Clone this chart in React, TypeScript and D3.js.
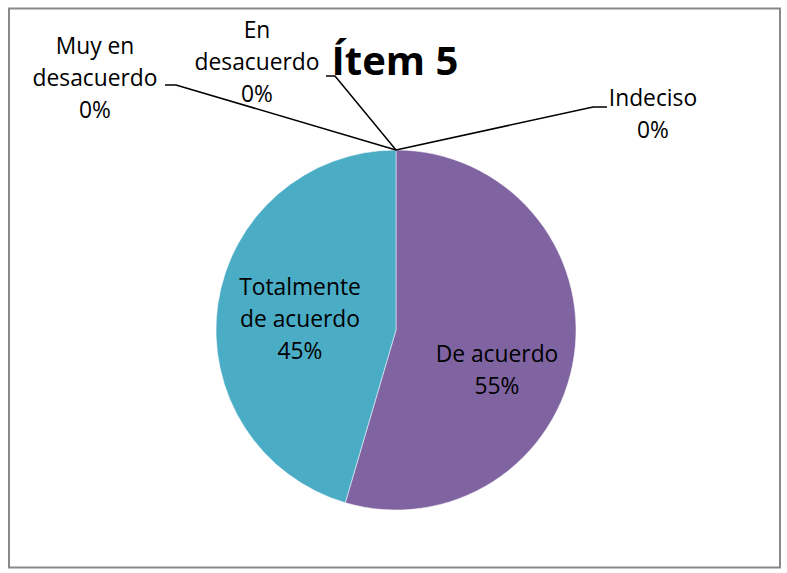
import React from "react";
import * as d3 from "d3";

const categories = ["Muy en desacuerdo", "En desacuerdo", "Indeciso", "De acuerdo", "Totalmente de acuerdo"];
const values = [0, 0, 0, 12, 10];
const colors = ["#4F81BD", "#C0504D", "#9BBB59", "#8064A2", "#4BACC6"];
const title = "Ítem 5";

// label layout (lines of text, center x, first baseline, leader line points)
const labelLines = [
  ["Muy en", "desacuerdo"],
  ["En", "desacuerdo"],
  ["Indeciso"],
  ["De acuerdo"],
  ["Totalmente", "de acuerdo"],
];
const labelPos: { x: number; y: number; leader?: [number, number][] }[] = [
  { x: 95, y: 54, leader: [[176, 85], [165, 85]] },
  { x: 257, y: 38, leader: [[335, 76], [326, 76]] },
  { x: 653, y: 106, leader: [[593, 107], [607, 107]] },
  { x: 497, y: 362 },
  { x: 300, y: 295 },
];

export default function App() {
  const W = 787, H = 573;
  const cx = 396, cy = 330, r = 180;
  const total = d3.sum(values);
  const pie = d3.pie<number>().sort(null).startAngle(0).endAngle(2 * Math.PI)(values);
  const arc = d3.arc<d3.PieArcDatum<number>>().innerRadius(0).outerRadius(r);
  const fmt = (v: number) => `${Math.round((v / total) * 100)}%`;
  const lh = 32;
  const font = "'Open Sans', Calibri, sans-serif";

  return (
    <svg width={W} height={H} style={{ position: "absolute", left: 0, top: 0, background: "#fff" }}>
      <rect x={9} y={8.5} width={771} height={559} fill="#fff" stroke="#898989" strokeWidth={2} />
      <g transform={`translate(${cx},${cy})`}>
        {pie.map((p, i) => (
          <path key={i} d={arc(p) || ""} fill={colors[i]} stroke="#fff" strokeWidth={p.value > 0 ? 0.5 : 0} />
        ))}
      </g>
      {pie.map((p, i) => {
        const pos = labelPos[i];
        if (!pos.leader) return null;
        const a = p.startAngle;
        const sx = cx + r * Math.sin(a);
        const sy = cy - r * Math.cos(a);
        const pts: [number, number][] = [[sx, sy], ...pos.leader];
        return (
          <polyline key={"l" + i} points={pts.map((q) => q.join(",")).join(" ")} fill="none" stroke="#000" strokeWidth={1.5} />
        );
      })}
      <text x={395} y={75} textAnchor="middle" fontFamily={font} fontWeight="bold" fontSize={40} fill="#000">
        {title}
      </text>
      {categories.map((c, i) => {
        const pos = labelPos[i];
        const lines = [...labelLines[i], fmt(values[i])];
        return (
          <text key={"t" + i} textAnchor="middle" fontFamily={font} fontSize={22.8} fill="#000">
            {lines.map((ln, j) => (
              <tspan key={j} x={pos.x} y={pos.y + j * lh}>
                {ln}
              </tspan>
            ))}
          </text>
        );
      })}
    </svg>
  );
}
